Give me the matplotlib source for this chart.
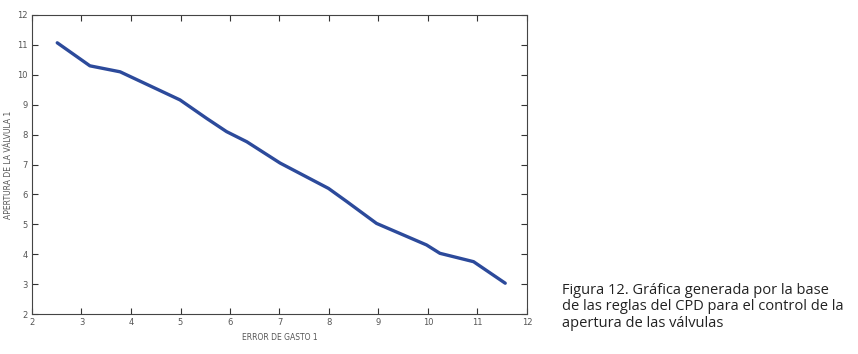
import matplotlib.pyplot as plt

error_gasto = [2.51, 3.17, 3.78, 4.99, 5.53, 5.93, 6.34, 7.01, 7.99, 8.36, 8.96, 9.97, 10.24, 10.92, 11.56]
apertura = [11.07, 10.30, 10.10, 9.16, 8.54, 8.10, 7.76, 7.05, 6.20, 5.76, 5.03, 4.31, 4.03, 3.75, 3.03]
xticks = list(range(2, 13))
yticks = list(range(2, 13))

caption = ("Figura 12. Gráfica generada por la base\n"
           "de las reglas del CPD para el control de la\n"
           "apertura de las válvulas")

fig = plt.figure(figsize=(8.58, 3.54), dpi=100)
ax = fig.add_axes([32/858, 1 - 314/354, (527-32)/858, (314-15)/354])

ax.plot(error_gasto, apertura, color='#2c4a9b', linewidth=2.4, solid_capstyle='round')

ax.set_xlim(2, 12)
ax.set_ylim(2, 12)
ax.set_xticks(xticks)
ax.set_yticks(yticks)
ax.tick_params(direction='in', top=True, right=True, length=4, width=0.8,
               labelsize=6, labelcolor='#555555', pad=3, color='#333333')
for s in ax.spines.values():
    s.set_linewidth(0.8)
    s.set_color('#444444')

ax.set_xlabel('ERROR DE GASTO 1', fontsize=5.5, color='#555555', labelpad=4)
ax.set_ylabel('APERTURA DE LA VÁLVULA 1', fontsize=5.5, color='#555555', labelpad=3)

fig.text(562/858, 1 - 283/354, caption, fontsize=10.5, family='Open Sans',
         color='#222222', va='top', ha='left', linespacing=1.12)

fig.savefig('out.png', dpi=100)
